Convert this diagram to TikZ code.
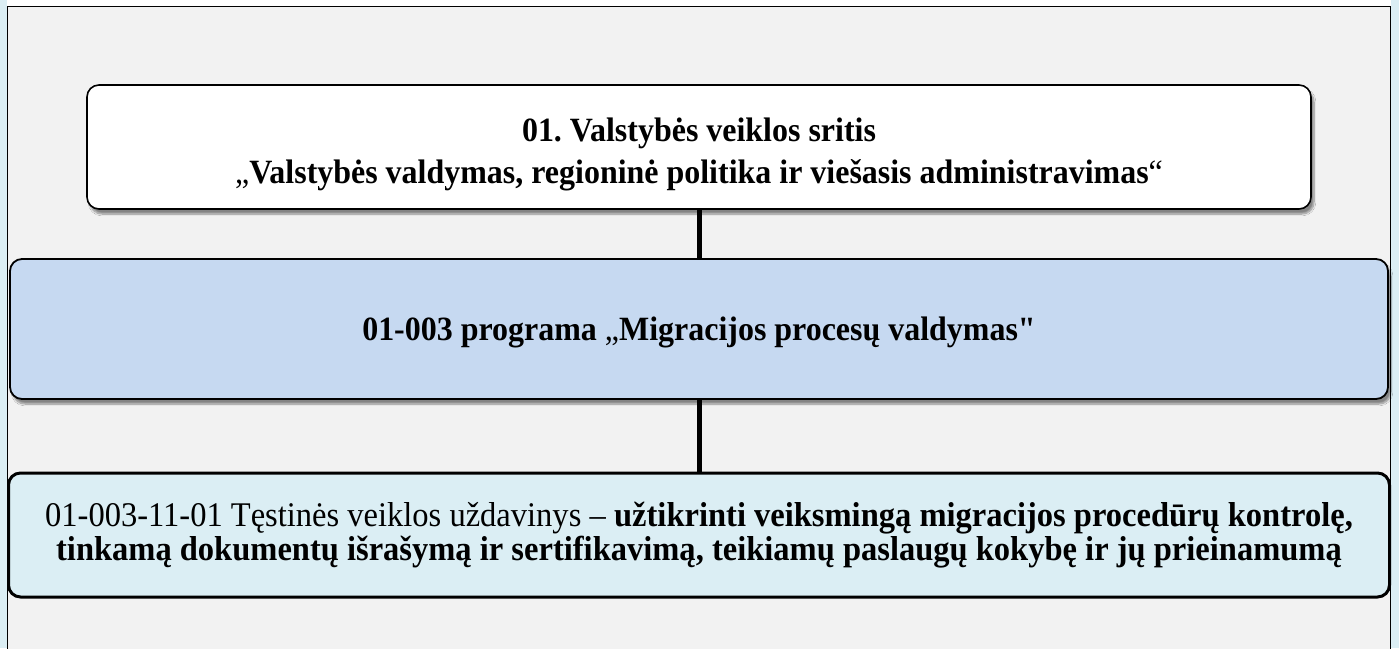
\documentclass[tikz,border=0pt]{standalone}
\usepackage{fontspec}
\setmainfont{Liberation Serif}[Ligatures=TeXOff, FakeStretch=0.94]
\usetikzlibrary{shadows.blur}
\definecolor{bgGrey}{HTML}{F2F2F2}
\definecolor{progBlue}{HTML}{C6D9F1}
\definecolor{taskBlue}{HTML}{DBEEF4}
\tikzset{
  boxbase/.style={draw=black, rounded corners=12pt, inner sep=0pt},
  areabox/.style={boxbase, fill=white, line width=1.6pt, minimum width=1224pt, minimum height=124pt,
    blur shadow={shadow xshift=3pt, shadow yshift=-5pt, shadow blur steps=8, shadow opacity=45}},
  progbox/.style={boxbase, fill=progBlue, line width=1.8pt, minimum width=1378pt, minimum height=140pt,
    blur shadow={shadow xshift=3pt, shadow yshift=-5pt, shadow blur steps=8, shadow opacity=45}},
  taskbox/.style={boxbase, fill=taskBlue, line width=3pt, minimum width=1381pt, minimum height=124pt},
  boxtext/.style={anchor=base, align=center, inner sep=0pt, font=\fontsize{34}{42}\selectfont},
  link/.style={draw=black, line width=5pt},
}
\begin{document}
\frenchspacing
\begin{tikzpicture}[x=1pt,y=-1pt]
\useasboundingbox (0,0) rectangle (1399,648);
% outer strips and page
\fill[taskBlue] (0,0) rectangle (1399,648);
\fill[white] (7,0) rectangle (1391,6);
\fill[bgGrey] (7,6) rectangle (1391,650);
\draw[black, line width=1.5pt] (7.5,652) -- (7.5,6.5) -- (1390.5,6.5) -- (1390.5,652);
% boxes
\node[areabox] (b1) at (699,147) {};
\node[progbox] (b2) at (699,329) {};
\node[taskbox] (b3) at (699,535) {};
% texts (base anchor = last line's baseline)
\node[boxtext] (t1) at (699,183) {\textbf{01. Valstybės veiklos sritis}\\„\textbf{Valstybės valdymas, regioninė politika ir viešasis administravimas}“};
\node[boxtext] (t2) at (699,340) {\textbf{01-003 programa} „\textbf{Migracijos procesų valdymas"}};
\node[boxtext, font=\fontsize{34.6}{32}\selectfont] (t3) at (699,560) {01-003-11-01 Tęstinės veiklos uždavinys – \textbf{užtikrinti veiksmingą migracijos procedūrų kontrolę,}\\\textbf{tinkamą dokumentų išrašymą ir sertifikavimą, teikiamų paslaugų kokybę ir jų prieinamumą}};
% connectors
\draw[link] (b1.south) -- (b2.north);
\draw[link] (b2.south) -- (b3.north);
\end{tikzpicture}
\end{document}
